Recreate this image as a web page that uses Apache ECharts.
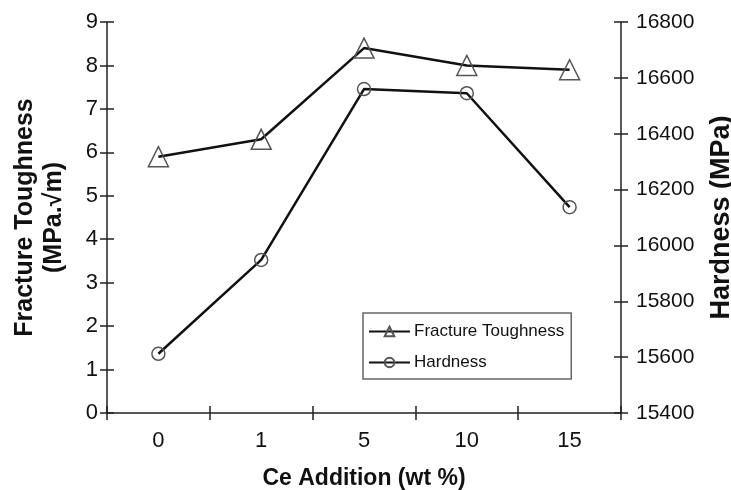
<!DOCTYPE html>
<html>
<head>
<meta charset="utf-8">
<script src="https://cdn.jsdelivr.net/npm/echarts@6/dist/echarts.min.js"></script>
<style>html,body{margin:0;padding:0;background:#fff}#c{width:731px;height:490px}</style>
</head>
<body>
<div id="c"></div>
<script>
const categories = ['0', '1', '5', '10', '15'];
const fractureToughness = [5.9, 6.3, 8.4, 8.0, 7.9];
const hardness = [15612, 15948, 16560, 16545, 16137];
const leftTicks = { min: 0, max: 9, interval: 1 };
const rightTicks = { min: 15400, max: 16800, interval: 200 };

const FONT = 'Liberation Sans, Arial, sans-serif';
const axisLine = { show: true, lineStyle: { color: '#222', width: 1.5 } };
const tickStyle = { color: '#222', width: 1.5 };

const chart = echarts.init(document.getElementById('c'), null, { renderer: 'canvas' });
chart.setOption({
  backgroundColor: '#fff',
  animation: false,
  grid: { left: 107, right: 110, top: 22, bottom: 77, containLabel: false, outerBoundsMode: 'none' },
  legend: {
    orient: 'vertical',
    left: 363, top: 313,
    padding: [9, 7, 7, 5],
    itemGap: 12,
    itemWidth: 41, itemHeight: 12,
    borderColor: '#666', borderWidth: 1.5, borderRadius: 0,
    textStyle: { fontFamily: FONT, fontSize: 17, color: '#111', lineHeight: 19, padding: [0, 0, 0, -1] },
    data: ['Fracture Toughness', 'Hardness']
  },
  xAxis: [{
    type: 'category', data: categories, boundaryGap: true,
    axisLine: axisLine,
    axisTick: { show: true, length: 7, lineStyle: tickStyle },
    axisLabel: { fontFamily: FONT, fontSize: 22, color: '#111', margin: 17 },
    name: 'Ce Addition (wt %)', nameLocation: 'middle', nameGap: 54,
    nameTextStyle: { fontFamily: FONT, fontSize: 23, fontWeight: 'bold', color: '#111' }
  }, {
    type: 'category', data: categories, boundaryGap: true, position: 'bottom',
    axisLine: { show: false },
    axisTick: { show: true, inside: true, length: 7, lineStyle: tickStyle },
    axisLabel: { show: false }
  }],
  yAxis: [{
    type: 'value', position: 'left', ...leftTicks,
    axisLine: axisLine,
    axisTick: { show: true, length: 7, lineStyle: tickStyle },
    splitLine: { show: false },
    axisLabel: { fontFamily: FONT, fontSize: 22, color: '#111', margin: 9 },
    name: 'Fracture Toughness\n(MPa.\u221Am)', nameLocation: 'middle', nameRotate: 90, nameGap: 38,
    nameTextStyle: { fontFamily: FONT, fontSize: 25, fontWeight: 'bold', color: '#111', lineHeight: 29 }
  }, {
    type: 'value', position: 'right', ...rightTicks,
    axisLine: axisLine,
    axisTick: { show: true, length: 7, lineStyle: tickStyle },
    splitLine: { show: false },
    axisLabel: { fontFamily: FONT, fontSize: 21, color: '#111', margin: 15, formatter: v => String(v) },
    name: 'Hardness (MPa)', nameLocation: 'middle', nameRotate: 90, nameGap: 87,
    nameTextStyle: { fontFamily: FONT, fontSize: 27, fontWeight: 'bold', color: '#111' }
  }, {
    type: 'value', position: 'left', ...leftTicks,
    axisLine: { show: false },
    axisTick: { show: true, inside: true, length: 7, lineStyle: tickStyle },
    splitLine: { show: false }, axisLabel: { show: false }
  }, {
    type: 'value', position: 'right', ...rightTicks,
    axisLine: { show: false },
    axisTick: { show: true, inside: true, length: 7, lineStyle: tickStyle },
    splitLine: { show: false }, axisLabel: { show: false }
  }],
  series: [{
    name: 'Fracture Toughness', type: 'line', yAxisIndex: 0, data: fractureToughness,
    symbol: 'triangle', symbolSize: [20, 20],
    lineStyle: { color: '#111', width: 2.5 },
    itemStyle: { color: 'rgba(255,255,255,0)', borderColor: '#555', borderWidth: 1.5 },
    z: 3
  }, {
    name: 'Hardness', type: 'line', yAxisIndex: 1, data: hardness,
    symbol: 'circle', symbolSize: 13,
    lineStyle: { color: '#111', width: 2.5 },
    itemStyle: { color: 'rgba(255,255,255,0)', borderColor: '#555', borderWidth: 1.5 },
    z: 3
  }]
});
</script>
</body>
</html>
